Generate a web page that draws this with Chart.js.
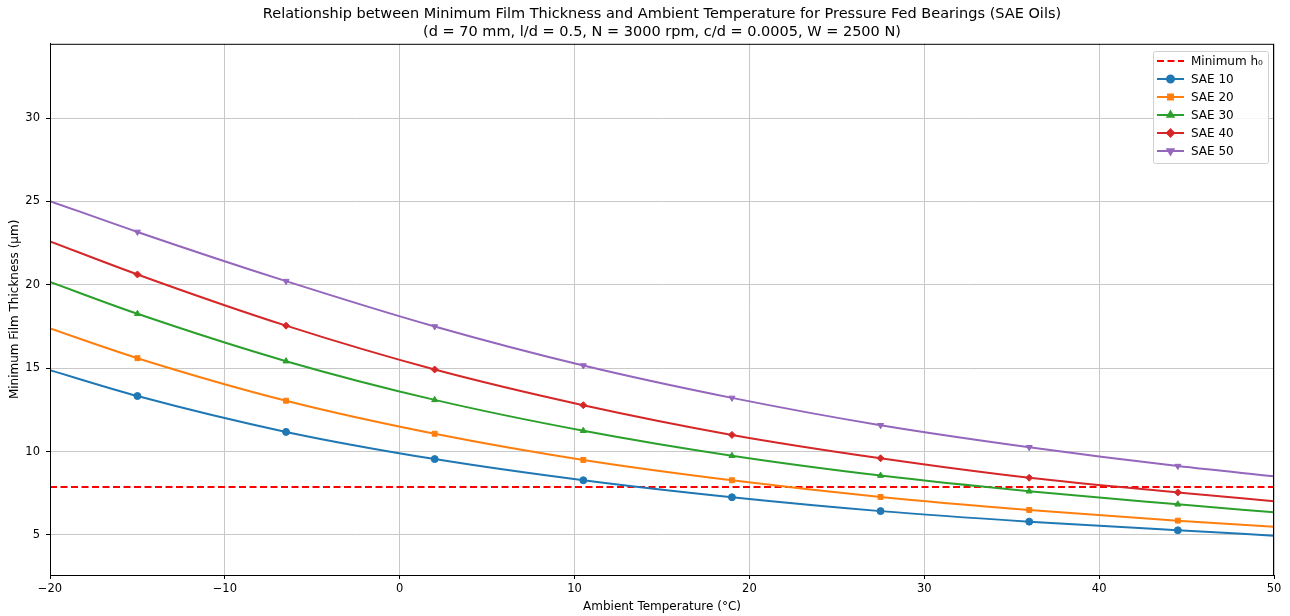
<!DOCTYPE html>
<html>
<head>
<meta charset="utf-8">
<script src="https://cdn.jsdelivr.net/npm/chart.js@4/dist/chart.umd.min.js"></script>
<style>
  html, body { margin: 0; padding: 0; background: #fff; }
  #wrap { width: 1290px; height: 616px; }
</style>
</head>
<body>
<div id="wrap"><canvas id="chart" width="1290" height="616"></canvas></div>
<script>
// temperatures where values were read (ends + marker positions)
const temps = [-20, -15, -6.5, 2, 10.5, 19, 27.5, 36, 44.5, 50];

const sae10 = [14.88, 13.33, 11.18, 9.55, 8.28, 7.26, 6.43, 5.8, 5.28, 4.96];
const sae20 = [17.38, 15.6, 13.05, 11.07, 9.5, 8.28, 7.28, 6.5, 5.86, 5.5];
const sae30 = [20.17, 18.26, 15.42, 13.1, 11.25, 9.75, 8.56, 7.62, 6.84, 6.36];
const sae40 = [22.6, 20.62, 17.55, 14.92, 12.78, 11.0, 9.6, 8.43, 7.55, 7.02];
const sae50 = [25.02, 23.17, 20.22, 17.5, 15.16, 13.22, 11.58, 10.26, 9.13, 8.52];

const minH0 = 7.88;
const xTicks = [-20, -10, 0, 10, 20, 30, 40, 50];
const yTicks = [5, 10, 15, 20, 25, 30];

const FONT = "'DejaVu Sans', sans-serif";

function pts(vals) {
  return temps.map((t, i) => ({ x: t, y: vals[i] }));
}
// no markers on the two end points
const markR = temps.map((t, i) => (i === 0 || i === temps.length - 1 ? 0 : 3.5));

const series = [
  { label: "SAE 10", data: sae10, color: "#1f77b4", style: "circle", rot: 0 },
  { label: "SAE 20", data: sae20, color: "#ff7f0e", style: "rect", rot: 0 },
  { label: "SAE 30", data: sae30, color: "#2ca02c", style: "triangle", rot: 0 },
  { label: "SAE 40", data: sae40, color: "#d62728", style: "rectRot", rot: 0 },
  { label: "SAE 50", data: sae50, color: "#9467bd", style: "triangle", rot: 180 },
];

const datasets = [
  {
    label: "Minimum h₀",
    data: [{ x: -20, y: minH0 }, { x: 50, y: minH0 }],
    borderColor: "#ff0000",
    borderWidth: 2,
    borderDash: [7, 3.5],
    pointRadius: 0,
    order: 6,
  },
];
series.forEach((s, k) => {
  datasets.push({
    label: s.label,
    data: pts(s.data),
    borderColor: s.color,
    backgroundColor: s.color,
    borderWidth: 2,
    cubicInterpolationMode: "monotone",
    pointStyle: s.style,
    pointRotation: s.rot,
    pointRadius: markR,
    pointBorderWidth: 1,
    order: 5 - k,
  });
});

// box round the plot and a matplotlib-like legend inside it
const boxPlugin = {
  id: "box",
  afterDraw(chart) {
    const ctx = chart.ctx;
    const a = chart.chartArea;
    ctx.save();
    ctx.strokeStyle = "#000";
    ctx.lineWidth = 1;
    ctx.strokeRect(a.left + 0.5, a.top + 0.5, a.right - a.left - 1, a.bottom - a.top);

    const lx = 1153, ly = 51, lw = 115, lh = 112;
    ctx.fillStyle = "rgba(255,255,255,0.85)";
    ctx.strokeStyle = "#d0d0d0";
    ctx.beginPath();
    ctx.roundRect(lx + 0.5, ly + 0.5, lw, lh, 2);
    ctx.fill();
    ctx.stroke();

    ctx.font = "12px " + FONT;
    ctx.textBaseline = "middle";
    const items = chart.data.datasets;
    items.forEach((d, i) => {
      const y = ly + 10 + i * 18;
      ctx.strokeStyle = d.borderColor;
      ctx.lineWidth = 2;
      ctx.setLineDash(d.borderDash || []);
      ctx.beginPath();
      ctx.moveTo(lx + 4, y);
      ctx.lineTo(lx + 31, y);
      ctx.stroke();
      ctx.setLineDash([]);
      if (d.pointStyle) {
        Chart.helpers.drawPoint(ctx, {
          pointStyle: d.pointStyle,
          rotation: d.pointRotation,
          radius: 3.5,
          borderWidth: 1,
        }, lx + 17.5, y);
        ctx.fillStyle = d.borderColor;
        ctx.fill();
      }
      ctx.fillStyle = "#000";
      ctx.fillText(d.label, lx + 38, y + 1);
    });
    ctx.restore();
  },
};

new Chart(document.getElementById("chart"), {
  type: "line",
  data: { datasets: datasets },
  options: {
    responsive: false,
    animation: false,
    layout: { padding: { left: 8, right: 16, top: 0, bottom: 0 } },
    plugins: {
      legend: { display: false },
      tooltip: { enabled: false },
      title: {
        display: true,
        fullSize: false,
        text: [
          "Relationship between Minimum Film Thickness and Ambient Temperature for Pressure Fed Bearings (SAE Oils)",
          "(d = 70 mm, l/d = 0.5, N = 3000 rpm, c/d = 0.0005, W = 2500 N)",
        ],
        color: "#000",
        font: { family: FONT, size: 14.5, weight: "normal", lineHeight: 1.2 },
        padding: { top: 6, bottom: 3 },
      },
    },
    scales: {
      x: {
        type: "linear",
        min: -20,
        max: 50,
        afterBuildTicks(axis) {
          axis.ticks = xTicks.map((v) => ({ value: v }));
        },
        afterFit(axis) { axis.height = 41; },
        ticks: {
          color: "#000",
          font: { family: FONT, size: 11.5 },
          padding: 3,
          maxRotation: 0,
          callback: (v) => (v < 0 ? "\u2212" + Math.abs(v) : String(v)),
        },
        grid: { color: "#c8c8c8", lineWidth: 1, tickLength: 4, tickColor: "#000" },
        border: { color: "#000" },
        title: {
          display: true,
          text: "Ambient Temperature (°C)",
          color: "#000",
          font: { family: FONT, size: 12 },
          padding: { top: 0, bottom: 2 },
        },
      },
      y: {
        type: "linear",
        min: 2.6,
        max: 34.45,
        afterBuildTicks(axis) {
          axis.ticks = yTicks.map((v) => ({ value: v }));
        },
        afterFit(axis) { axis.width = 42; },
        ticks: {
          color: "#000",
          font: { family: FONT, size: 11.5 },
          padding: 6,
        },
        grid: { color: "#c8c8c8", lineWidth: 1, tickLength: 4, tickColor: "#000" },
        border: { color: "#000" },
        title: {
          display: true,
          text: "Minimum Film Thickness (μm)",
          color: "#000",
          font: { family: FONT, size: 12 },
          padding: { top: 0, bottom: 0 },
        },
      },
    },
  },
  plugins: [boxPlugin],
});
</script>
</body>
</html>
